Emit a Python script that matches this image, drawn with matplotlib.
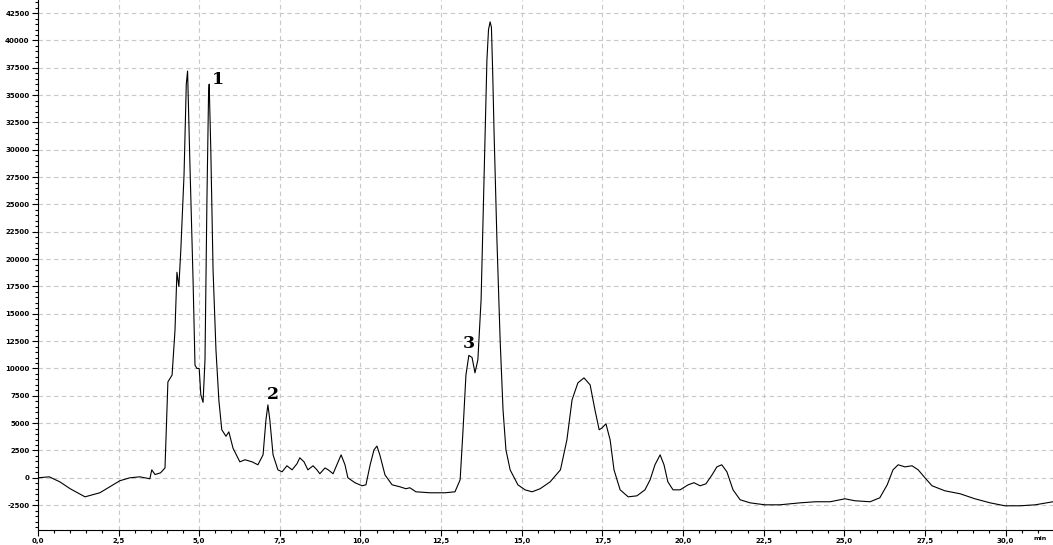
import matplotlib
matplotlib.use('Agg')
import matplotlib.pyplot as plt
from matplotlib.ticker import MultipleLocator, FuncFormatter

# Chromatogram trace: time [min], signal
czas = [0.0, 0.35, 0.68, 1.0, 1.46, 1.92, 2.54, 2.85, 3.16, 3.47, 3.53, 3.63, 3.8, 3.94,
        4.03, 4.16, 4.25, 4.31, 4.37, 4.43, 4.53, 4.6, 4.64, 4.71, 4.81, 4.87, 4.93, 5.0,
        5.05, 5.12, 5.18, 5.24, 5.29, 5.31, 5.36, 5.43, 5.52, 5.61, 5.7, 5.83, 5.92, 6.05,
        6.26, 6.42, 6.64, 6.82, 6.98, 7.07, 7.13, 7.19, 7.29, 7.44, 7.57, 7.72, 7.88, 8.03,
        8.12, 8.25, 8.37, 8.53, 8.65, 8.74, 8.9, 9.0, 9.15, 9.27, 9.4, 9.52, 9.61, 9.83,
        10.05, 10.17, 10.3, 10.42, 10.51, 10.6, 10.76, 10.98, 11.22, 11.41, 11.53, 11.72,
        12.16, 12.62, 12.93, 13.09, 13.18, 13.27, 13.36, 13.46, 13.55, 13.64, 13.74, 13.83,
        13.92, 13.97, 14.02, 14.06, 14.1, 14.14, 14.23, 14.33, 14.42, 14.51, 14.64, 14.88,
        15.1, 15.32, 15.57, 15.88, 16.2, 16.4, 16.56, 16.74, 16.93, 17.12, 17.27, 17.4,
        17.49, 17.61, 17.74, 17.86, 18.05, 18.3, 18.57, 18.82, 18.98, 19.13, 19.29, 19.41,
        19.53, 19.69, 19.91, 20.16, 20.34, 20.53, 20.71, 20.9, 21.05, 21.2, 21.36, 21.55,
        21.77, 22.08, 22.54, 23.0, 23.63, 24.1, 24.56, 25.02, 25.33, 25.8, 26.1, 26.33,
        26.51, 26.67, 26.88, 27.1, 27.29, 27.5, 27.72, 28.12, 28.59, 29.05, 29.52, 29.98,
        30.45, 30.92, 31.47]
sygnal = [0, 90, -370, -1000, -1740, -1370, -270, 0, 90, -90, 730, 300, 450, 900,
          8770, 9400, 13500, 18800, 17500, 20800, 27700, 36000, 37200, 29000, 18100, 10300, 10000, 10000,
          7600, 6900, 10800, 25400, 35000, 36000, 30000, 19000, 11700, 7100, 4400, 3800, 4200, 2700,
          1460, 1650, 1460, 1190, 2100, 5300, 6670, 5300, 2100, 730, 550, 1100, 730, 1280,
          1830, 1460, 730, 1100, 730, 370, 900, 730, 370, 1190, 2100, 1190, 0, -450,
          -730, -640, 1190, 2560, 2900, 2100, 270, -640, -820, -1000, -910, -1280,
          -1370, -1370, -1280, -180, 4390, 9400, 11200, 11000, 9600, 10800, 16300, 27200,
          38200, 41000, 41700, 41200, 37000, 31800, 21800, 12600, 6200, 2560, 730, -640,
          -1100, -1280, -1000, -370, 730, 3470, 7130, 8680, 9140, 8500, 6200, 4390,
          4570, 4940, 3470, 730, -1100, -1740, -1650, -1100, -180, 1190, 2100, 1190,
          -370, -1100, -1100, -640, -450, -730, -550, 270, 1000, 1190, 550, -1100,
          -2010, -2290, -2470, -2470, -2290, -2190, -2190, -1920, -2100, -2190, -1830, -640,
          730, 1190, 1000, 1100, 730, 0, -730, -1190, -1460, -1920, -2290, -2560,
          -2560, -2470, -2190]

# peak labels
etykiety = ['1', '2', '3']
etykiety_x = [5.58, 7.29, 13.36]
etykiety_y = [36400, 7600, 12300]

fig = plt.figure(figsize=(10.53, 5.45), dpi=100)
ax = fig.add_axes([0.036, 0.028, 0.964, 0.972])

ax.plot(czas, sygnal, color='black', linewidth=0.8)

for t, x, y in zip(etykiety, etykiety_x, etykiety_y):
    ax.text(x, y, t, family='DejaVu Serif', fontweight='bold', fontsize=12.5,
            ha='center', va='center')

ax.set_xlim(0, 31.47)
ax.set_ylim(-4750, 43700)
ax.xaxis.set_major_locator(MultipleLocator(2.5))
ax.xaxis.set_minor_locator(MultipleLocator(0.5))
ax.yaxis.set_major_locator(MultipleLocator(2500))
ax.yaxis.set_minor_locator(MultipleLocator(500))
ax.xaxis.set_major_formatter(FuncFormatter(lambda v, p: f'{v:.1f}'.replace('.', ',')))
ax.yaxis.set_major_formatter(FuncFormatter(lambda v, p: f'{v:.0f}'))

ax.tick_params(which='both', direction='out', labelsize=5, width=0.8, pad=2)
ax.tick_params(which='major', length=4)
ax.tick_params(which='minor', length=2.5)
for lab in ax.get_xticklabels() + ax.get_yticklabels():
    lab.set_fontweight('bold')

ax.grid(True, which='major', color='#c8c8c8', linestyle=(0, (4, 3)), linewidth=0.8)
ax.spines['top'].set_visible(False)
ax.spines['right'].set_visible(False)

fig.text(0.988, 0.008, 'min', fontsize=4.5, fontweight='bold', ha='center', va='bottom')

plt.savefig('out.png', dpi=100)
